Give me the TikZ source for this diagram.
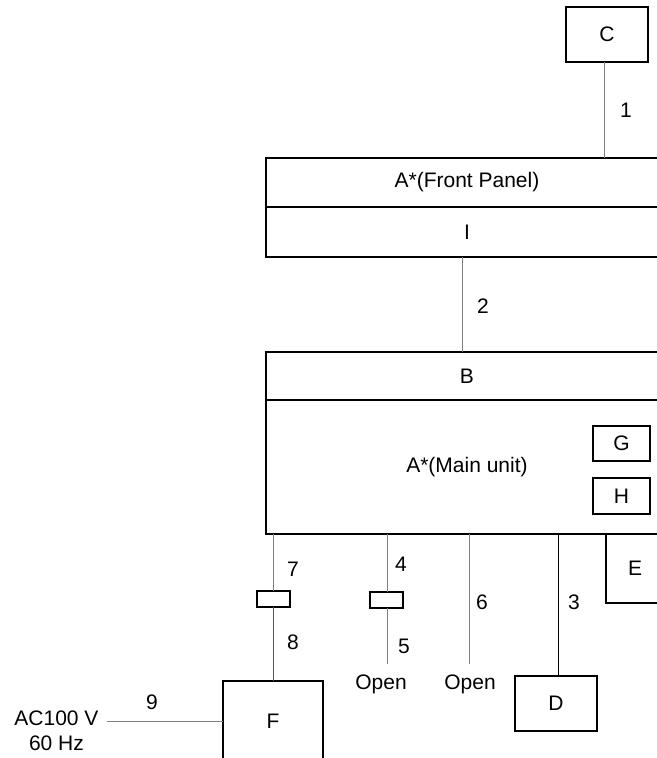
\documentclass[tikz,border=0pt]{standalone}
\usepackage{fontspec}
\setmainfont{Liberation Sans}
\usetikzlibrary{calc}

\tikzset{every picture/.style={line width=0.75pt}}
\tikzset{
  box/.style={draw, line width=1.1pt, inner sep=0pt, outer sep=0pt},
  wire/.style={color={rgb, 255:red, 128; green, 128; blue, 128 }, line width=0.75pt},
  lbl/.style={inner sep=0.75pt}
}

\begin{document}
\begin{tikzpicture}[x=0.75pt,y=0.75pt,yscale=-1,xscale=1,font=\fontsize{15.75}{19}\selectfont]
\useasboundingbox (0,0) rectangle (657,758);
\clip (0,0) rectangle (657,758);

%Boxes
\node [box, minimum width=61.5pt, minimum height=41.25pt] (c) at (607,34.5) {C};
\node [box, minimum width=301.5pt, minimum height=36.75pt] (front) at (467,182.5) {A*(Front Panel)};
\node [box, minimum width=301.5pt, minimum height=37.5pt] (i) at (467,232) {I};
\node [box, minimum width=301.5pt, minimum height=36pt] (b) at (467,376) {B};
\node [box, minimum width=301.5pt, minimum height=100.5pt] (amain) at (467,467) {A*(Main unit)};
\node [box, minimum width=42.75pt, minimum height=26.25pt] (g) at (621.5,443.5) {G};
\node [box, minimum width=42.75pt, minimum height=27pt] (h) at (621.5,496) {H};
\node [box, minimum width=43.5pt, minimum height=51.75pt] (e) at (635,568.5) {E};
\node [box, minimum width=61.5pt, minimum height=41.25pt] (d) at (556,703.5) {D};
\node [box, minimum width=75pt, minimum height=60pt] (f) at (273,721) {F};
\node [box, minimum width=24.75pt, minimum height=12pt] (plug7) at (273.5,599) {};
\node [box, minimum width=24.75pt, minimum height=12pt] (plug4) at (386.5,600) {};

%Wire ends
\coordinate (t7) at (273,534);
\coordinate (t4) at (387,534);
\coordinate (t6) at (469,534);
\coordinate (t3) at (558,534);
\coordinate (o5) at (387,664);
\coordinate (o6) at (469,664);
\coordinate (ac9) at (107,721);

%Straight Lines
\draw [wire] ([xshift=-2.25pt]c.south) -- ([xshift=-2.25pt]c.south |- front.north);
\draw [wire] ([xshift=-3.75pt]i.south) -- ([xshift=-3.75pt]i.south |- b.north);
\draw [wire] (t7) -- (t7 |- plug7.north);
\draw [wire, color={rgb, 255:red, 85; green, 85; blue, 85 }] (t7 |- plug7.south) -- (f.north);
\draw [wire] (t4) -- (t4 |- plug4.north);
\draw [wire] (t4 |- plug4.south) -- (o5);
\draw [wire] (t6) -- (o6);
\draw [color=black] (t3) -- (t3 |- d.north);
\draw [wire] (ac9) -- (f.west);

% Text Node
\node [lbl] (n1) at (626,110) {1};
\node [lbl] (n2) at (483,306) {2};
\node [lbl] (n7) at (293,569) {7};
\node [lbl] (n8) at (293,642) {8};
\node [lbl] (n4) at (401,564) {4};
\node [lbl] (n5) at (404,646) {5};
\node [lbl] (n6) at (482,602) {6};
\node [lbl] (n3) at (574,602) {3};
\node [lbl] (n9) at (152,702) {9};
\node [lbl] (open5) at (381,684) {Open};
\node [lbl] (open6) at (470,684) {Open};
\node [lbl, align=center] (ac) at (56.5,731) {AC100 V\\60 Hz};

\end{tikzpicture}
\end{document}
